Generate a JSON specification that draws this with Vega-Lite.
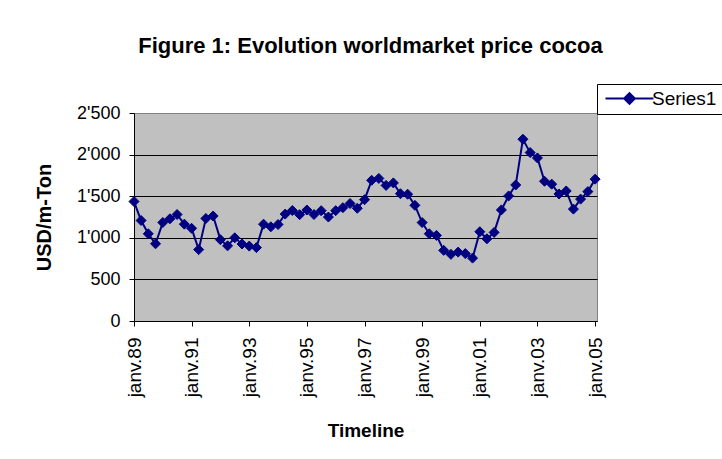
{
  "$schema": "https://vega.github.io/schema/vega-lite/v6.json",
  "autosize": "none",
  "width": 463,
  "height": 208,
  "padding": {"left": 134, "top": 113, "right": 125, "bottom": 138},
  "background": "white",
  "title": {
    "text": "Figure 1: Evolution worldmarket price cocoa",
    "font": "Liberation Sans",
    "fontSize": 22,
    "fontWeight": "bold",
    "color": "black",
    "anchor": "middle",
    "baseline": "alphabetic",
    "offset": 9,
    "dx": 5
  },
  "data": {
    "values": [
      {"date": "1989-01-01", "price": 1436, "series": "Series1"},
      {"date": "1989-04-01", "price": 1208, "series": "Series1"},
      {"date": "1989-07-01", "price": 1048, "series": "Series1"},
      {"date": "1989-10-01", "price": 928, "series": "Series1"},
      {"date": "1990-01-01", "price": 1184, "series": "Series1"},
      {"date": "1990-04-01", "price": 1228, "series": "Series1"},
      {"date": "1990-07-01", "price": 1280, "series": "Series1"},
      {"date": "1990-10-01", "price": 1164, "series": "Series1"},
      {"date": "1991-01-01", "price": 1114, "series": "Series1"},
      {"date": "1991-04-01", "price": 858, "series": "Series1"},
      {"date": "1991-07-01", "price": 1232, "series": "Series1"},
      {"date": "1991-10-01", "price": 1262, "series": "Series1"},
      {"date": "1992-01-01", "price": 978, "series": "Series1"},
      {"date": "1992-04-01", "price": 903, "series": "Series1"},
      {"date": "1992-07-01", "price": 1000, "series": "Series1"},
      {"date": "1992-10-01", "price": 926, "series": "Series1"},
      {"date": "1993-01-01", "price": 900, "series": "Series1"},
      {"date": "1993-04-01", "price": 882, "series": "Series1"},
      {"date": "1993-07-01", "price": 1164, "series": "Series1"},
      {"date": "1993-10-01", "price": 1132, "series": "Series1"},
      {"date": "1994-01-01", "price": 1160, "series": "Series1"},
      {"date": "1994-04-01", "price": 1285, "series": "Series1"},
      {"date": "1994-07-01", "price": 1328, "series": "Series1"},
      {"date": "1994-10-01", "price": 1278, "series": "Series1"},
      {"date": "1995-01-01", "price": 1334, "series": "Series1"},
      {"date": "1995-04-01", "price": 1280, "series": "Series1"},
      {"date": "1995-07-01", "price": 1326, "series": "Series1"},
      {"date": "1995-10-01", "price": 1250, "series": "Series1"},
      {"date": "1996-01-01", "price": 1326, "series": "Series1"},
      {"date": "1996-04-01", "price": 1362, "series": "Series1"},
      {"date": "1996-07-01", "price": 1412, "series": "Series1"},
      {"date": "1996-10-01", "price": 1355, "series": "Series1"},
      {"date": "1997-01-01", "price": 1458, "series": "Series1"},
      {"date": "1997-04-01", "price": 1691, "series": "Series1"},
      {"date": "1997-07-01", "price": 1714, "series": "Series1"},
      {"date": "1997-10-01", "price": 1630, "series": "Series1"},
      {"date": "1998-01-01", "price": 1660, "series": "Series1"},
      {"date": "1998-04-01", "price": 1530, "series": "Series1"},
      {"date": "1998-07-01", "price": 1524, "series": "Series1"},
      {"date": "1998-10-01", "price": 1390, "series": "Series1"},
      {"date": "1999-01-01", "price": 1183, "series": "Series1"},
      {"date": "1999-04-01", "price": 1049, "series": "Series1"},
      {"date": "1999-07-01", "price": 1029, "series": "Series1"},
      {"date": "1999-10-01", "price": 849, "series": "Series1"},
      {"date": "2000-01-01", "price": 801, "series": "Series1"},
      {"date": "2000-04-01", "price": 828, "series": "Series1"},
      {"date": "2000-07-01", "price": 810, "series": "Series1"},
      {"date": "2000-10-01", "price": 756, "series": "Series1"},
      {"date": "2001-01-01", "price": 1073, "series": "Series1"},
      {"date": "2001-04-01", "price": 988, "series": "Series1"},
      {"date": "2001-07-01", "price": 1065, "series": "Series1"},
      {"date": "2001-10-01", "price": 1335, "series": "Series1"},
      {"date": "2002-01-01", "price": 1503, "series": "Series1"},
      {"date": "2002-04-01", "price": 1635, "series": "Series1"},
      {"date": "2002-07-01", "price": 2185, "series": "Series1"},
      {"date": "2002-10-01", "price": 2024, "series": "Series1"},
      {"date": "2003-01-01", "price": 1960, "series": "Series1"},
      {"date": "2003-04-01", "price": 1680, "series": "Series1"},
      {"date": "2003-07-01", "price": 1645, "series": "Series1"},
      {"date": "2003-10-01", "price": 1527, "series": "Series1"},
      {"date": "2004-01-01", "price": 1563, "series": "Series1"},
      {"date": "2004-04-01", "price": 1345, "series": "Series1"},
      {"date": "2004-07-01", "price": 1465, "series": "Series1"},
      {"date": "2004-10-01", "price": 1555, "series": "Series1"},
      {"date": "2005-01-01", "price": 1705, "series": "Series1"}
    ]
  },
  "encoding": {
    "x": {
      "field": "date",
      "type": "temporal",
      "scale": {
        "type": "utc",
        "domain": [
          {"year": 1989, "month": 1, "date": 1, "utc": true},
          {"year": 2005, "month": 1, "date": 25, "utc": true}
        ]
      },
      "axis": {
        "values": [
          {"year": 1989, "month": 1, "date": 1, "utc": true},
          {"year": 1991, "month": 1, "date": 1, "utc": true},
          {"year": 1993, "month": 1, "date": 1, "utc": true},
          {"year": 1995, "month": 1, "date": 1, "utc": true},
          {"year": 1997, "month": 1, "date": 1, "utc": true},
          {"year": 1999, "month": 1, "date": 1, "utc": true},
          {"year": 2001, "month": 1, "date": 1, "utc": true},
          {"year": 2003, "month": 1, "date": 1, "utc": true},
          {"year": 2005, "month": 1, "date": 1, "utc": true}
        ],
        "labelExpr": "'janv.' + utcFormat(datum.value, '%y')",
        "labelAngle": 270,
        "labelAlign": "right",
        "labelBaseline": "middle",
        "labelFont": "Liberation Sans",
        "labelFontSize": 19,
        "labelColor": "black",
        "labelPadding": 11,
        "labelFlush": false,
        "labelOverlap": false,
        "tickSize": 5,
        "tickColor": "black",
        "domainColor": "black",
        "grid": false,
        "title": "Timeline",
        "titleFont": "Liberation Sans",
        "titleFontSize": 19,
        "titleFontWeight": "bold",
        "titleColor": "black",
        "titlePadding": 25
      }
    },
    "y": {
      "field": "price",
      "type": "quantitative",
      "scale": {"domain": [0, 2500], "nice": false, "zero": true},
      "axis": {
        "values": [0, 500, 1000, 1500, 2000, 2500],
        "labelExpr": "replace(format(datum.value, ','), ',', \"'\")",
        "labelFont": "Liberation Sans",
        "labelFontSize": 18,
        "labelColor": "black",
        "labelPadding": 9,
        "labelFlush": false,
        "labelOverlap": false,
        "tickSize": 5,
        "tickColor": "black",
        "domainColor": "black",
        "grid": true,
        "gridColor": {"condition": {"test": "datum.value === 2500", "value": "#808080"}, "value": "black"},
        "gridWidth": 1,
        "title": "USD/m-Ton",
        "titleFont": "Liberation Sans",
        "titleFontSize": 20,
        "titleFontWeight": "bold",
        "titleColor": "black",
        "titlePadding": 22
      }
    },
    "color": {
      "field": "series",
      "type": "nominal",
      "scale": {"range": ["#000080"]},
      "legend": {
        "title": null,
        "orient": "none",
        "legendX": 463,
        "legendY": -29,
        "padding": 5,
        "strokeColor": "black",
        "fillColor": "white",
        "symbolType": "M-4,0H4M0,-0.9L0.9,0L0,0.9L-0.9,0Z",
        "symbolSize": 144,
        "symbolOffset": 18,
        "labelFont": "Liberation Sans",
        "labelFontSize": 19,
        "labelColor": "black",
        "labelOffset": 13,
        "encode": {
          "symbols": {
            "update": {
              "stroke": {"value": "#000080"},
              "fill": {"value": "#000080"},
              "strokeWidth": {"value": 2},
              "opacity": {"value": 1}
            }
          }
        }
      }
    }
  },
  "layer": [
    {
      "mark": {"type": "line", "strokeWidth": 2}
    },
    {
      "mark": {"type": "point", "shape": "diamond", "filled": true, "size": 100, "stroke": "#000080", "strokeWidth": 1, "opacity": 1}
    }
  ],
  "config": {
    "view": {"fill": "#C0C0C0", "stroke": "#808080", "strokeWidth": 1},
    "axis": {"domainWidth": 1, "tickWidth": 1}
  }
}
